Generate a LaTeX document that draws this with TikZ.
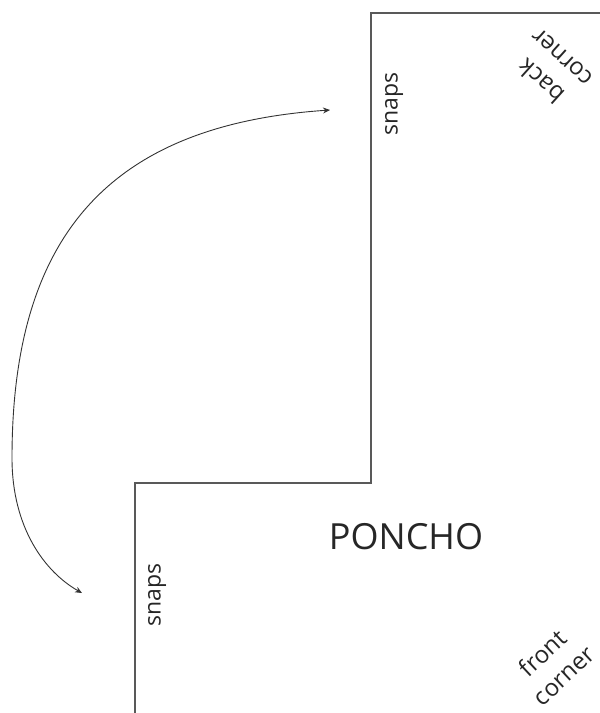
\documentclass[tikz,border=0pt]{standalone}
\usepackage{fontspec}
\setmainfont{Open Sans}
\usetikzlibrary{arrows.meta}
\begin{document}
\begin{tikzpicture}[x=1pt,y=-1pt,
  outline/.style={line width=1.8pt,draw=black!65},
  lbl/.style={font=\fontsize{23}{24}\selectfont,text=black!85,inner sep=0pt,align=center},
  corner/.style={lbl,font=\fontsize{24}{31}\selectfont},
  flip/.style={draw=black!80,line width=0.9pt,{Stealth[length=7pt,width=6pt]}-{Stealth[length=7pt,width=6pt]}}]
\useasboundingbox (0,0) rectangle (600,713);
\draw[outline] (602,13) -- (371,13) -- (371,483) -- (135,483) -- (135,715);
\node[lbl,rotate=90] (snapstop) at (394,104) {snaps};
\node[lbl,rotate=90] (snapsbot) at (157,595) {snaps};
\node[corner,rotate=138] (back) at (551,70) {back\\corner};
\node[corner,rotate=43] (front) at (553,664) {front\\corner};
\node[font=\fontsize{36}{40}\selectfont,text=black!85,inner sep=0pt] (poncho) at (406,537) {PONCHO};
\coordinate (tipA) at (82,593);
\coordinate (tipB) at (330,110);
\coordinate (mid) at (12,458);
\draw[flip] (tipA) .. controls (45,572) and (12,528) .. (mid) .. controls (12,235) and (110,125) .. (tipB);
\end{tikzpicture}
\end{document}
